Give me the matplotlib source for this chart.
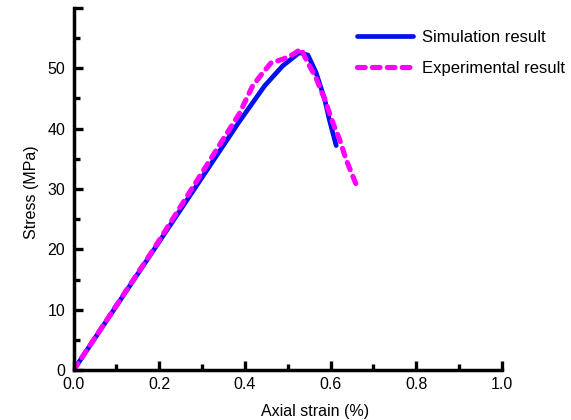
import matplotlib
matplotlib.use("Agg")
import matplotlib.pyplot as plt
from matplotlib.ticker import MultipleLocator, FuncFormatter

plt.rcParams['font.family'] = ['Liberation Sans', 'DejaVu Sans']

sim_x = [0, 0.387, 0.446, 0.488, 0.527, 0.547, 0.566, 0.586, 0.597, 0.613]
sim_y = [0, 41.2, 47.1, 50.4, 52.6, 52.2, 49.3, 44.9, 41.5, 37.2]
exp_x = [0, 0.19, 0.387, 0.418, 0.442, 0.461, 0.488, 0.512, 0.531, 0.547, 0.566,
         0.586, 0.605, 0.621, 0.636, 0.660]
exp_y = [0, 20.4, 42.5, 47.1, 49.3, 50.9, 51.5, 52.3, 53.2, 50.9, 48.4,
         44.9, 41.0, 38.2, 34.9, 30.7]

fig = plt.figure(figsize=(5.71, 4.2), dpi=100)
ax = fig.add_axes([0.129, 0.119, 0.750, 0.862])

ax.plot(sim_x, sim_y, color='#0010f0', lw=3.4, label='Simulation result',
        solid_capstyle='round', solid_joinstyle='round')
ax.plot(exp_x, exp_y, color='#ff00ff', lw=3.7, ls=(0, (1.5, 1.4)), dash_capstyle='round',
        label='Experimental result')

ax.set_xlim(0, 1.0)
ax.set_ylim(0, 60)
ax.xaxis.set_major_locator(MultipleLocator(0.2))
ax.xaxis.set_minor_locator(MultipleLocator(0.1))
ax.yaxis.set_major_locator(MultipleLocator(10))
ax.yaxis.set_minor_locator(MultipleLocator(5))
ax.xaxis.set_major_formatter(FuncFormatter(lambda v, p: f'{v:.1f}'))
ax.yaxis.set_major_formatter(FuncFormatter(lambda v, p: '' if v > 55 else f'{v:.0f}'))

for s in ['top', 'right']:
    ax.spines[s].set_visible(False)
for s in ['left', 'bottom']:
    ax.spines[s].set_linewidth(2.5)
    ax.spines[s].set_capstyle('projecting')

ax.tick_params(which='major', direction='in', length=6.5, width=2.4, labelsize=11.5, pad=5)
ax.tick_params(which='minor', direction='in', length=4.5, width=2.4)
ax.tick_params(axis='y', which='major', pad=6)

ax.set_xlabel('Axial strain (%)', fontsize=11.5)
ax.set_ylabel('Stress (MPa)', fontsize=11.5)
ax.xaxis.set_label_coords(0.563, -0.095)
ax.yaxis.set_label_coords(-0.082, 0.49)

ax.legend(loc='upper left', bbox_to_anchor=(0.645, 0.957), frameon=False, fontsize=12,
          handlelength=3.4, handletextpad=0.5, labelspacing=0.95, borderaxespad=0)

fig.savefig('out.png', dpi=100)
